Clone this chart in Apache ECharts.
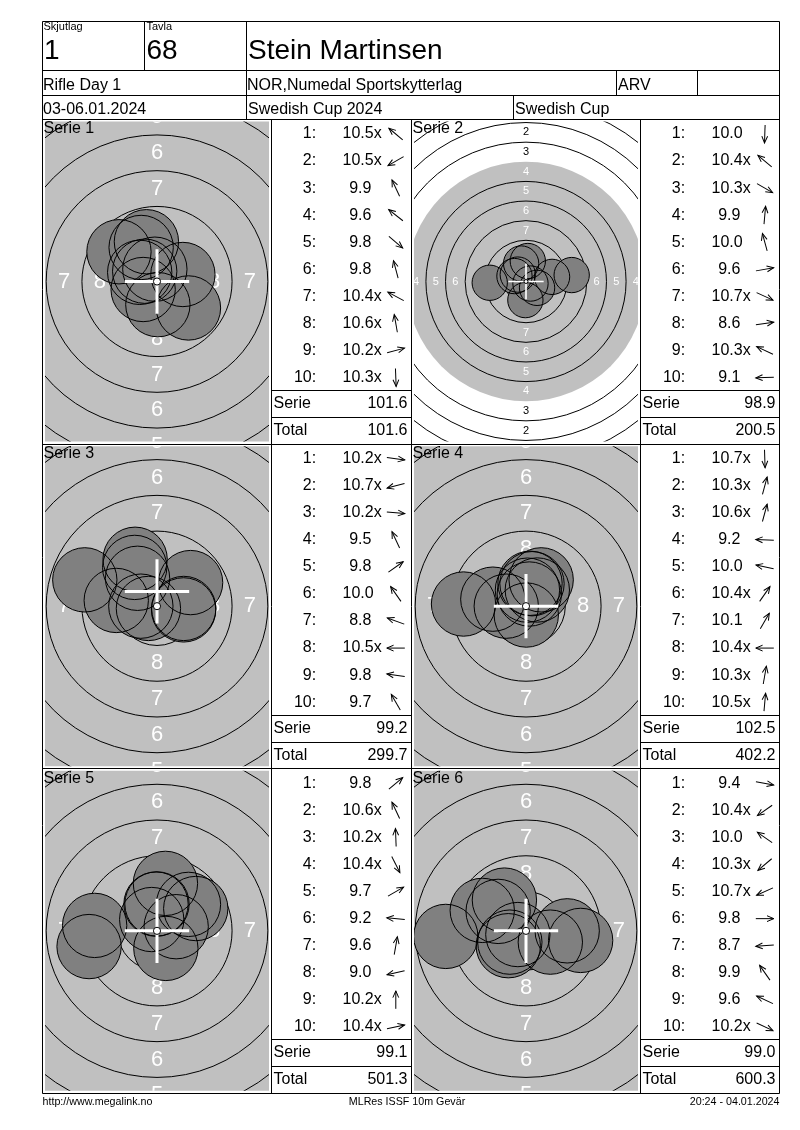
<!DOCTYPE html>
<html><head><meta charset="utf-8">
<script src="https://cdn.jsdelivr.net/npm/echarts@6.0.0/dist/echarts.min.js"></script>
<style>html,body{margin:0;padding:0;background:#fff}#c{width:800px;height:1130px}</style>
</head><body><div id="c"></div>
<script>
// ---------------- data ----------------
const squadLabel = 'Skjutlag', squadNo = '1', laneLabel = 'Tavla', laneNo = '68';
const shooterName = 'Stein Martinsen';
const eventName = 'Rifle Day 1', clubName = 'NOR,Numedal Sportskytterlag', classCode = 'ARV';
const dateRange = '03-06.01.2024', competitionName = 'Swedish Cup 2024', cupName = 'Swedish Cup';
const footerLeft = 'http://www.megalink.no', footerCenter = 'MLRes ISSF 10m Gevär', footerRight = '20:24 - 04.01.2024';

const serieNames = ['Serie 1', 'Serie 2', 'Serie 3', 'Serie 4', 'Serie 5', 'Serie 6'];
const rowLabels = ['1:', '2:', '3:', '4:', '5:', '6:', '7:', '8:', '9:', '10:', 'Serie', 'Total'];

const scores1 = ['10.5x', '10.5x', '9.9', '9.6', '9.8', '9.8', '10.4x', '10.6x', '10.2x', '10.3x'];
const scores2 = ['10.0', '10.4x', '10.3x', '9.9', '10.0', '9.6', '10.7x', '8.6', '10.3x', '9.1'];
const scores3 = ['10.2x', '10.7x', '10.2x', '9.5', '9.8', '10.0', '8.8', '10.5x', '9.8', '9.7'];
const scores4 = ['10.7x', '10.3x', '10.6x', '9.2', '10.0', '10.4x', '10.1', '10.4x', '10.3x', '10.5x'];
const scores5 = ['9.8', '10.6x', '10.2x', '10.4x', '9.7', '9.2', '9.6', '9.0', '10.2x', '10.4x'];
const scores6 = ['9.4', '10.4x', '10.0', '10.3x', '10.7x', '9.8', '8.7', '9.9', '9.6', '10.2x'];

// shot centres in mm from target centre (x right, y up)
const shotX1 = [-0.86, -0.97, -1.11, -2.66, 2.20, -0.74, -1.21, -0.15, 1.81, 0.06];
const shotY1 = [0.72, -0.56, 2.38, 2.08, -1.85, 2.78, 0.64, 0.86, 0.49, -1.62];
const shotX2 = [-0.08, -1.05, 1.41, 0.23, -0.62, 3.32, 0.57, 5.82, -1.47, -4.62];
const shotY2 = [-2.37, 0.88, -0.81, 2.61, 2.29, 0.59, -0.26, 0.82, 0.69, -0.16];
const shotX3 = [1.86, -0.60, 1.87, -1.53, 2.35, -1.36, -5.05, -1.13, -2.85, -1.56];
const shotY3 = [-0.26, -0.16, -0.16, 3.28, 1.65, 1.95, 1.84, 0.00, 0.40, 2.71];
const shotX4 = [0.02, 0.42, 0.23, -4.37, -2.32, 0.79, 1.06, -1.38, 0.28, 0.10];
const shotY4 = [-0.62, 1.57, 0.85, 0.15, 0.49, 1.13, 1.84, 0.00, 1.60, 1.12];
const shotX5 = [2.20, -0.37, -0.07, 0.62, 2.71, -4.36, 0.59, -4.75, 0.00, 1.34];
const shotY5 = [1.85, 0.79, 1.87, -1.23, 1.56, 0.38, 3.32, -1.10, 1.88, 0.29];
const shotX6 = [3.82, -1.13, -1.95, -1.24, -0.57, 2.88, -5.61, -1.51, -3.06, 1.70];
const shotY6 = [-0.67, -0.79, 1.36, -1.04, -0.26, 0.00, -0.39, 2.15, 1.43, -0.79];

const crossX = [0, 0, 0, 0, 0, 0];
const crossY = [0, 0, 1.03, 0, 0, 0];

const serieSums = ['101.6', '98.9', '99.2', '102.5', '99.1', '99.0'];
const runningTotals = ['101.6', '200.5', '299.7', '402.2', '501.3', '600.3'];

const ringLineNumbers = [1, 2, 3, 5, 6, 7, 8, 9];
const ringLabelNumbers = [1, 2, 3, 4, 5, 6, 7, 8];

// ---------------- target geometry (ISSF 10m air rifle, mm) ----------------
const ringRadius = n => 22.75 - 2.5 * (n - 1);
const BLACK_R = 15.25, PELLET_R = 2.25, DOT_R = 0.25;

// ---------------- layout ----------------
const FONT = '"Liberation Sans", Arial, sans-serif';
const colTargetL = [42.5, 411.5];
const colTableL = [271.5, 640.5];
const colTableR = [411.5, 779.5];
const panelTop0 = 119.5, panelH = 324.67;
const pxPerMm = [14.3, 7.85, 14.3, 14.3, 14.3, 14.3];
const labelFont = [22, 11, 22, 22, 22, 22];
const GW = 224, GH = 320;

const scoresList = [scores1, scores2, scores3, scores4, scores5, scores6];
const xsList = [shotX1, shotX2, shotX3, shotX4, shotX5, shotX6];
const ysList = [shotY1, shotY2, shotY3, shotY4, shotY5, shotY6];

function txt(x, y, text, align, size, color, extra) {
  return Object.assign({
    type: 'text', x: x, y: y, silent: true,
    style: {
      text: text, fill: color || '#000', fontSize: size || 16, fontFamily: FONT,
      align: align, verticalAlign: 'middle', textAlign: align, textVerticalAlign: 'middle'
    }
  }, extra || {});
}
function line(x1, y1, x2, y2) {
  return { type: 'line', silent: true, z: 100, shape: { x1, y1, x2, y2 }, style: { stroke: '#000', lineWidth: 1 } };
}

const grids = [], xAxes = [], yAxes = [], series = [], elements = [];

for (let p = 0; p < 6; p++) {
  const row = Math.floor(p / 2), col = p % 2;
  const top = panelTop0 + row * panelH;
  const S = pxPerMm[p];
  const scores = scoresList[p], xs = xsList[p], ys = ysList[p];

  // ---- target grid ----
  const tg = grids.length;
  grids.push({ left: colTargetL[col] + 2.5, top: top + 2, width: GW, height: GH });
  xAxes.push({ type: 'value', gridIndex: tg, min: -GW / 2 / S, max: GW / 2 / S, show: false });
  yAxes.push({ type: 'value', gridIndex: tg, min: -GH / 2 / S, max: GH / 2 / S, show: false });
  const base = { type: 'custom', coordinateSystem: 'cartesian2d', xAxisIndex: tg, yAxisIndex: tg, clip: true, silent: true };

  series.push(Object.assign({}, base, {
    z: 1, data: [[0, 0]],
    renderItem: (pa, api) => {
      const c = api.coord([0, 0]);
      return { type: 'circle', shape: { cx: c[0], cy: c[1], r: api.size([BLACK_R, 0])[0] }, style: { fill: '#c0c0c0' } };
    }
  }));
  series.push(Object.assign({}, base, {
    z: 2, data: ringLineNumbers.map(n => [0, 0, n]),
    renderItem: (pa, api) => {
      const c = api.coord([0, 0]);
      return { type: 'circle', shape: { cx: c[0], cy: c[1], r: api.size([ringRadius(api.value(2)), 0])[0] }, style: { fill: 'none', stroke: '#000', lineWidth: 1 } };
    }
  }));
  const labelData = [];
  ringLabelNumbers.forEach(n => {
    const rr = ringRadius(n) - 1.25;
    labelData.push([0, rr, n], [0, -rr, n], [-rr, 0, n], [rr, 0, n]);
  });
  series.push(Object.assign({}, base, {
    z: 3, data: labelData,
    renderItem: (pa, api) => {
      const c = api.coord([api.value(0), api.value(1)]);
      const n = api.value(2);
      return txt(c[0], c[1], String(n), 'center', labelFont[p], n >= 4 ? '#ffffff' : '#000000');
    }
  }));
  const shotData = xs.map((x, i) => [x, ys[i]]);
  series.push(Object.assign({}, base, {
    z: 4, data: shotData,
    renderItem: (pa, api) => {
      const c = api.coord([api.value(0), api.value(1)]);
      return { type: 'circle', shape: { cx: c[0], cy: c[1], r: api.size([PELLET_R, 0])[0] }, style: { fill: '#808080' } };
    }
  }));
  series.push(Object.assign({}, base, {
    z: 5, data: shotData,
    renderItem: (pa, api) => {
      const c = api.coord([api.value(0), api.value(1)]);
      return { type: 'circle', shape: { cx: c[0], cy: c[1], r: api.size([PELLET_R, 0])[0] }, style: { fill: 'none', stroke: '#000', lineWidth: 1 } };
    }
  }));
  series.push(Object.assign({}, base, {
    z: 6, data: [[crossX[p], crossY[p]]],
    renderItem: (pa, api) => {
      const c = api.coord([api.value(0), api.value(1)]);
      const a = api.size([PELLET_R, 0])[0];
      const lw = Math.max(1.6, S * 0.21);
      return { type: 'group', children: [
        { type: 'line', shape: { x1: c[0] - a, y1: c[1], x2: c[0] + a, y2: c[1] }, style: { stroke: '#fff', lineWidth: lw } },
        { type: 'line', shape: { x1: c[0], y1: c[1] - a, x2: c[0], y2: c[1] + a }, style: { stroke: '#fff', lineWidth: lw } }
      ] };
    }
  }));
  series.push(Object.assign({}, base, {
    z: 7, data: [[0, 0]],
    renderItem: (pa, api) => {
      const c = api.coord([0, 0]);
      return { type: 'circle', shape: { cx: c[0], cy: c[1], r: Math.max(1.8, api.size([DOT_R, 0])[0]) }, style: { fill: '#fff', stroke: '#000', lineWidth: 1 } };
    }
  }));

  // serie title on target
  elements.push(txt(colTargetL[col] + 1, top + 9.5, serieNames[p], 'left', 16, '#000', { z: 100 }));

  // ---- table grid ----
  const tb = grids.length;
  const tW = colTableR[col] - colTableL[col];
  grids.push({ left: colTableL[col], top: top, width: tW, height: panelH });
  xAxes.push({ type: 'value', gridIndex: tb, min: 0, max: 1, show: false });
  yAxes.push({ type: 'category', gridIndex: tb, data: rowLabels, inverse: true, show: false });
  series.push({
    type: 'custom', coordinateSystem: 'cartesian2d', xAxisIndex: tb, yAxisIndex: tb, silent: true, z: 10,
    data: rowLabels.map((l, i) => [0, i]),
    renderItem: (pa, api) => {
      const i = pa.dataIndex;
      const c = api.coord([0, i]);
      const gx = c[0], cy = c[1];
      if (i < 10) {
        const s = scores[i];
        const ang = Math.atan2(ys[i], xs[i]);
        return { type: 'group', children: [
          txt(gx + 44.7, cy + 1, rowLabels[i], 'right'),
          txt(gx + (parseFloat(s) >= 10 ? 71 : 77.7), cy + 1, s, 'left'),
          { type: 'group', x: gx + 124.3, y: cy + 1, rotation: ang, children: [
            { type: 'line', shape: { x1: -9, y1: 0, x2: 9, y2: 0 }, style: { stroke: '#000', lineWidth: 1 } },
            { type: 'polyline', shape: { points: [[2.2, -2.9], [9, 0], [2.2, 2.9]] }, style: { stroke: '#000', fill: 'none', lineWidth: 1 } }
          ] }
        ] };
      }
      const val = i === 10 ? serieSums[p] : runningTotals[p];
      return { type: 'group', children: [
        txt(gx + 2, cy, rowLabels[i], 'left'),
        txt(gx + tW - 4, cy, val, 'right')
      ] };
    }
  });

  // table separator lines
  const rowH = panelH / 12;
  elements.push(line(colTableL[col], Math.round(top + 10 * rowH) + 0.5, colTableR[col], Math.round(top + 10 * rowH) + 0.5));
  elements.push(line(colTableL[col], Math.round(top + 11 * rowH) + 0.5, colTableR[col], Math.round(top + 11 * rowH) + 0.5));
}

// ---- frame lines ----
const L = 42.5, R = 779.5, T = 21.5, B = 1093.5;
elements.push(line(L, T, R, T), line(L, B, R, B), line(L, T, L, B), line(R, T, R, B));
elements.push(line(L, 70.5, R, 70.5), line(L, 95.5, R, 95.5), line(L, 119.5, R, 119.5));
elements.push(line(L, 444.5, R, 444.5), line(L, 768.5, R, 768.5));
elements.push(line(144.5, T, 144.5, 70.5), line(246.5, T, 246.5, 119.5));
elements.push(line(616.5, 70.5, 616.5, 95.5), line(697.5, 70.5, 697.5, 95.5), line(513.5, 95.5, 513.5, 119.5));
elements.push(line(271.5, 119.5, 271.5, B), line(411.5, 119.5, 411.5, B), line(640.5, 119.5, 640.5, B));

// ---- header texts ----
elements.push(txt(43.5, 27, squadLabel, 'left', 11, '#000', { z: 100 }));
elements.push(txt(146.5, 27, laneLabel, 'left', 11, '#000', { z: 100 }));
elements.push(txt(44, 51.7, squadNo, 'left', 28, '#000', { z: 100 }));
elements.push(txt(146.5, 51.7, laneNo, 'left', 28, '#000', { z: 100 }));
elements.push(txt(248, 51.7, shooterName, 'left', 28, '#000', { z: 100 }));
elements.push(txt(43, 85.2, eventName, 'left', 16, '#000', { z: 100 }));
elements.push(txt(247, 85.2, clubName, 'left', 16, '#000', { z: 100 }));
elements.push(txt(618, 85.2, classCode, 'left', 16, '#000', { z: 100 }));
elements.push(txt(43, 109.2, dateRange, 'left', 16, '#000', { z: 100 }));
elements.push(txt(248, 109.2, competitionName, 'left', 16, '#000', { z: 100 }));
elements.push(txt(515, 109.2, cupName, 'left', 16, '#000', { z: 100 }));

// ---- footer ----
elements.push(txt(42.5, 1102, footerLeft, 'left', 10.7, '#000', { z: 100 }));
elements.push(txt(407, 1102, footerCenter, 'center', 10.7, '#000', { z: 100 }));
elements.push(txt(779.5, 1102, footerRight, 'right', 10.7, '#000', { z: 100 }));

const chart = echarts.init(document.getElementById('c'), null, { renderer: 'canvas', width: 800, height: 1130 });
chart.setOption({
  animation: false,
  backgroundColor: '#ffffff',
  grid: grids,
  xAxis: xAxes,
  yAxis: yAxes,
  series: series,
  graphic: { elements: elements }
});
</script>
</body></html>
